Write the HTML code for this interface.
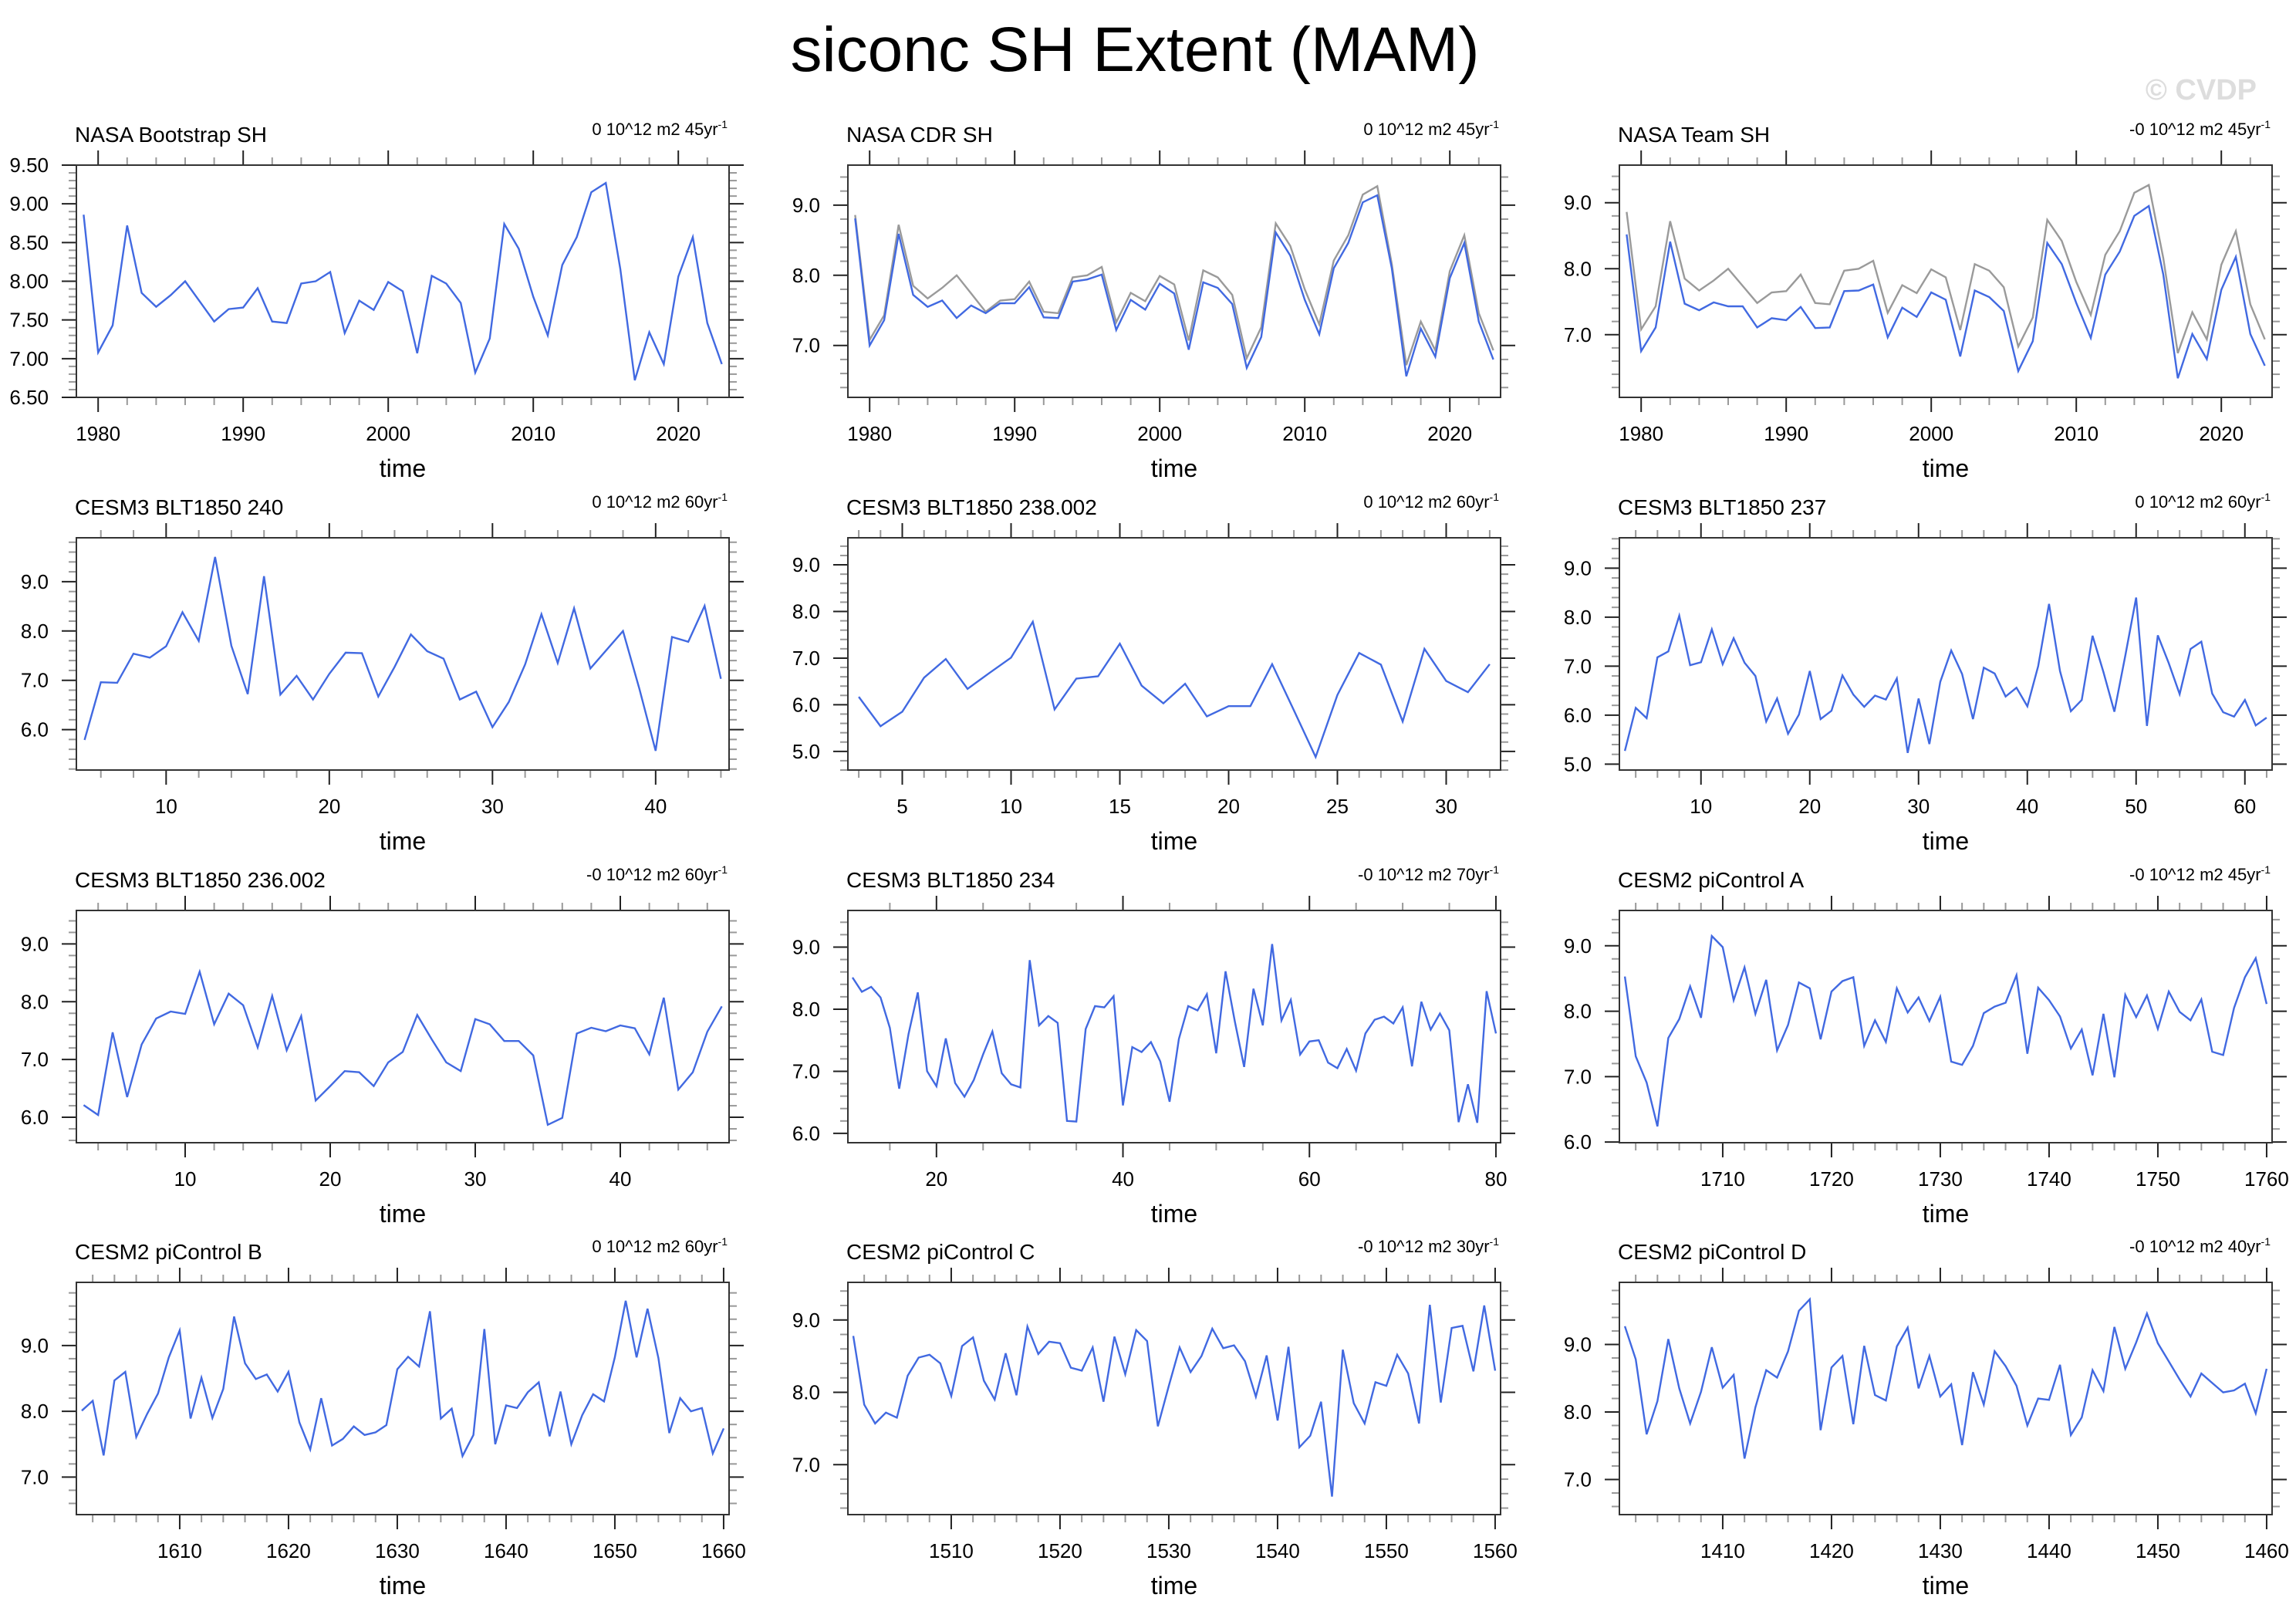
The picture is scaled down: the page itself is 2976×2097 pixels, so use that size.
<!DOCTYPE html>
<html><head><meta charset="utf-8"><style>
html,body{margin:0;padding:0;background:#fff;}
svg{display:block;font-family:"Liberation Sans",sans-serif;}
</style></head><body>
<svg id="fig" width="2976" height="2097" viewBox="0 0 2976 2097" xmlns="http://www.w3.org/2000/svg">
<text x="1471" y="92" font-size="82" text-anchor="middle" fill="#000">siconc SH Extent (MAM)</text>
<text x="2925" y="129" font-size="38" font-weight="bold" text-anchor="end" fill="#ddd">© CVDP</text>
</svg>
<script>
// ---- data arrays ----
const bootstrapSH=[8.86,7.08,7.43,8.72,7.85,7.67,7.82,8.00,7.74,7.48,7.64,7.66,7.91,7.48,7.46,7.97,8.00,8.12,7.33,7.75,7.63,7.99,7.87,7.07,8.07,7.97,7.72,6.82,7.26,8.74,8.42,7.80,7.30,8.21,8.57,9.15,9.27,8.16,6.72,7.34,6.93,8.06,8.57,7.46,6.93];
const cdrSH=[8.81,7.00,7.36,8.59,7.72,7.55,7.64,7.39,7.57,7.46,7.60,7.60,7.83,7.40,7.39,7.91,7.94,8.01,7.22,7.65,7.51,7.88,7.74,6.94,7.90,7.82,7.59,6.68,7.12,8.61,8.28,7.65,7.16,8.10,8.46,9.04,9.14,8.10,6.56,7.24,6.84,7.96,8.46,7.34,6.80];
const teamSH=[8.52,6.75,7.11,8.41,7.47,7.37,7.49,7.43,7.43,7.11,7.25,7.22,7.42,7.10,7.11,7.66,7.67,7.76,6.96,7.41,7.27,7.64,7.53,6.67,7.67,7.57,7.36,6.45,6.90,8.39,8.07,7.48,6.95,7.91,8.26,8.80,8.95,7.91,6.34,7.01,6.63,7.68,8.18,7.01,6.53];
const refObs=[8.86,7.08,7.43,8.72,7.85,7.67,7.82,8.00,7.74,7.48,7.64,7.66,7.91,7.48,7.46,7.97,8.00,8.12,7.33,7.75,7.63,7.99,7.87,7.07,8.07,7.97,7.72,6.82,7.26,8.74,8.42,7.80,7.30,8.21,8.57,9.15,9.27,8.16,6.72,7.34,6.93,8.06,8.57,7.46,6.93];
const blt240=[5.79,6.96,6.95,7.54,7.46,7.69,8.38,7.80,9.50,7.70,6.72,9.11,6.71,7.09,6.61,7.13,7.56,7.55,6.67,7.27,7.93,7.59,7.44,6.61,6.77,6.05,6.56,7.32,8.34,7.35,8.46,7.24,7.62,8.00,6.83,5.57,7.88,7.78,8.51,7.03];
const blt238=[6.17,5.54,5.85,6.58,6.98,6.34,6.68,7.01,7.78,5.90,6.56,6.61,7.31,6.41,6.03,6.45,5.75,5.97,5.97,6.87,5.88,4.88,6.21,7.11,6.86,5.64,7.20,6.51,6.27,6.87];
const blt237=[5.27,6.15,5.94,7.18,7.30,8.03,7.02,7.08,7.75,7.04,7.57,7.07,6.80,5.87,6.34,5.62,6.01,6.90,5.92,6.09,6.81,6.42,6.17,6.40,6.32,6.75,5.23,6.34,5.41,6.68,7.32,6.84,5.92,6.97,6.85,6.38,6.56,6.18,7.00,8.27,6.90,6.08,6.31,7.62,6.88,6.07,7.21,8.40,5.78,7.63,7.06,6.43,7.35,7.50,6.44,6.06,5.97,6.31,5.79,5.95];
const blt236=[6.21,6.04,7.47,6.35,7.26,7.71,7.83,7.79,8.52,7.61,8.14,7.94,7.21,8.10,7.16,7.75,6.29,6.54,6.80,6.78,6.54,6.95,7.13,7.77,7.35,6.95,6.80,7.70,7.61,7.32,7.32,7.07,5.87,5.99,7.45,7.55,7.49,7.59,7.54,7.09,8.07,6.48,6.78,7.48,7.92];
const blt234=[8.51,8.28,8.36,8.19,7.70,6.72,7.60,8.27,7.00,6.76,7.53,6.81,6.59,6.86,7.27,7.64,6.97,6.79,6.74,8.79,7.74,7.89,7.78,6.20,6.19,7.68,8.05,8.03,8.21,6.45,7.39,7.31,7.47,7.16,6.51,7.52,8.05,7.98,8.24,7.29,8.61,7.80,7.07,8.33,7.74,9.05,7.82,8.15,7.27,7.48,7.50,7.14,7.05,7.36,7.01,7.61,7.83,7.88,7.77,8.03,7.08,8.12,7.67,7.93,7.66,6.18,6.79,6.17,8.29,7.61];
const piA=[8.53,7.31,6.91,6.24,7.59,7.88,8.38,7.90,9.15,8.98,8.17,8.67,7.96,8.48,7.40,7.79,8.44,8.35,7.57,8.30,8.46,8.52,7.47,7.86,7.53,8.35,7.98,8.21,7.85,8.22,7.23,7.18,7.47,7.97,8.07,8.13,8.55,7.35,8.36,8.17,7.92,7.43,7.72,7.02,7.96,6.99,8.25,7.91,8.24,7.73,8.30,7.99,7.86,8.18,7.38,7.33,8.05,8.52,8.81,8.11];
const piB=[8.01,8.16,7.33,8.47,8.60,7.61,7.96,8.27,8.82,9.23,7.89,8.51,7.90,8.34,9.44,8.73,8.49,8.56,8.30,8.60,7.83,7.42,8.20,7.48,7.58,7.77,7.64,7.68,7.79,8.64,8.83,8.68,9.52,7.89,8.04,7.32,7.64,9.25,7.50,8.09,8.05,8.29,8.44,7.62,8.30,7.50,7.94,8.26,8.15,8.82,9.68,8.82,9.56,8.81,7.67,8.20,8.00,8.05,7.36,7.74];
const piC=[8.78,7.83,7.57,7.72,7.65,8.23,8.48,8.52,8.40,7.95,8.64,8.76,8.16,7.90,8.54,7.96,8.91,8.53,8.70,8.68,8.34,8.30,8.62,7.87,8.77,8.25,8.86,8.71,7.53,8.09,8.62,8.28,8.50,8.88,8.61,8.65,8.43,7.94,8.51,7.61,8.63,7.24,7.40,7.87,6.56,8.59,7.85,7.57,8.14,8.09,8.52,8.26,7.57,9.21,7.86,8.89,8.92,8.29,9.20,8.30];
const piD=[9.27,8.78,7.67,8.16,9.08,8.35,7.83,8.30,8.96,8.36,8.55,7.31,8.07,8.62,8.51,8.90,9.50,9.67,7.73,8.66,8.83,7.82,8.98,8.25,8.17,8.97,9.25,8.35,8.83,8.23,8.41,7.51,8.59,8.11,8.90,8.68,8.39,7.80,8.20,8.18,8.70,7.66,7.92,8.62,8.31,9.26,8.64,9.03,9.46,9.02,8.75,8.48,8.23,8.57,8.43,8.29,8.32,8.42,7.98,8.64];
const panelTitles=["NASA Bootstrap SH","NASA CDR SH","NASA Team SH","CESM3 BLT1850 240","CESM3 BLT1850 238.002","CESM3 BLT1850 237","CESM3 BLT1850 236.002","CESM3 BLT1850 234","CESM2 piControl A","CESM2 piControl B","CESM2 piControl C","CESM2 piControl D"];
const trendLabels=["0 10^12 m2 45yr","0 10^12 m2 45yr","-0 10^12 m2 45yr","0 10^12 m2 60yr","0 10^12 m2 60yr","0 10^12 m2 60yr","-0 10^12 m2 60yr","-0 10^12 m2 70yr","-0 10^12 m2 45yr","0 10^12 m2 60yr","-0 10^12 m2 30yr","-0 10^12 m2 40yr"];
const firstX=[1979,1979,1979,5,3,3,3,11,1701,1601,1501,1401];
const yRanges=[[6.5,9.5],[6.26,9.57],[6.05,9.57],[5.18,9.89],[4.60,9.58],[4.88,9.62],[5.56,9.58],[5.85,9.59],[5.99,9.54],[6.43,9.96],[6.31,9.52],[6.48,9.92]];

const series=[bootstrapSH,cdrSH,teamSH,blt240,blt238,blt237,blt236,blt234,piA,piB,piC,piD];
const graySeries=[null,refObs,refObs,null,null,null,null,null,null,null,null,null];
const yTick=[[0.5,0.1,2],[1,0.2,1],[1,0.2,1],[1,0.2,1],[1,0.2,1],[1,0.2,1],[1,0.2,1],[1,0.2,1],[1,0.2,1],[1,0.2,1],[1,0.2,1],[1,0.2,1]];
const xTick=[[10,2],[10,2],[10,2],[10,2],[5,1],[10,2],[10,2],[20,5],[10,2],[10,2],[10,2],[10,2]];

const NS="http://www.w3.org/2000/svg";
const svg=document.getElementById('fig');
const colL=[99,1099,2099], rowT=[214,697,1180,1662], W=846, H=301;
function mk(tag,attrs,parent){const e=document.createElementNS(NS,tag);for(const k in attrs)e.setAttribute(k,attrs[k]);parent.appendChild(e);return e;}

series.forEach((ys,i)=>{
  const L=colL[i%3], T=rowT[Math.floor(i/3)], R=L+W, B=T+H;
  const g=mk('g',{},svg);
  
  
  const x0=firstX[i]-0.5, x1=firstX[i]+ys.length-1+0.5;
  const [y0,y1]=yRanges[i];
  const X=v=>L+(v-x0)/(x1-x0)*W;
  const Y=v=>B-(v-y0)/(y1-y0)*H;
  const t=mk('text',{x:L-2,y:T-30,'font-size':28,fill:'#000'},g);
  
  
  t.textContent=panelTitles[i];
  const u=mk('text',{x:R-2,y:T-39,'font-size':22,fill:'#000','text-anchor':'end'},g);
  
  
  u.textContent=trendLabels[i];
  const sp=mk('tspan',{'font-size':14,dy:-9},u); sp.textContent='-1';
  const tk=mk('g',{stroke:'#333','stroke-width':2},g);
  
  
  const [ym,yn,yd]=yTick[i];
  for(let v=Math.ceil(y0/yn-1e-6)*yn; v<=y1+1e-6; v+=yn){
    const vv=Math.round(v*100)/100, py=Y(vv);
    const major=Math.abs(vv/ym-Math.round(vv/ym))<1e-6;
    const len=major?19:10, col=major?'#222':'#999';
    mk('line',{x1:L,x2:L-len,y1:py,y2:py,stroke:col},tk);
    mk('line',{x1:R,x2:R+len,y1:py,y2:py,stroke:col},tk);
    if(major){
      const lb=mk('text',{x:L-36,y:py+9,'font-size':26,'text-anchor':'end',fill:'#000',stroke:'none'},g);
      
      
      lb.textContent=vv.toFixed(yd);
    }
  }
  const [xm,xn]=xTick[i];
  for(let v=Math.ceil(x0/xn)*xn; v<=x1; v+=xn){
    const px=X(v), major=v%xm===0;
    const len=major?19:10, col=major?'#222':'#999';
    mk('line',{x1:px,x2:px,y1:B,y2:B+len,stroke:col},tk);
    mk('line',{x1:px,x2:px,y1:T,y2:T-len,stroke:col},tk);
    if(major){
      const lb=mk('text',{x:px,y:B+56,'font-size':26,'text-anchor':'middle',fill:'#000',stroke:'none'},g);
      
      
      lb.textContent=String(v);
    }
  }
  const xt=mk('text',{x:L+W/2,y:B+103,'font-size':32,'text-anchor':'middle',fill:'#000'},g);
  
  
  xt.textContent='time';
  const line=(arr,color,name)=>{
    const d=arr.map((v,k)=>(k?'L':'M')+X(firstX[i]+k).toFixed(1)+' '+Y(v).toFixed(1)).join(' ');
    const p=mk('path',{d:d,fill:'none',stroke:color,'stroke-width':2.4,'stroke-linejoin':'miter'},g);
    
    
  };
  if(graySeries[i]) line(graySeries[i],'#9a9a9a','reference-line');
  line(ys,'#4169e1','series-line');
  const box=mk('rect',{x:L,y:T,width:W,height:H,fill:'none',stroke:'#333','stroke-width':2},g);
  
  
});
</script>
</body></html>
